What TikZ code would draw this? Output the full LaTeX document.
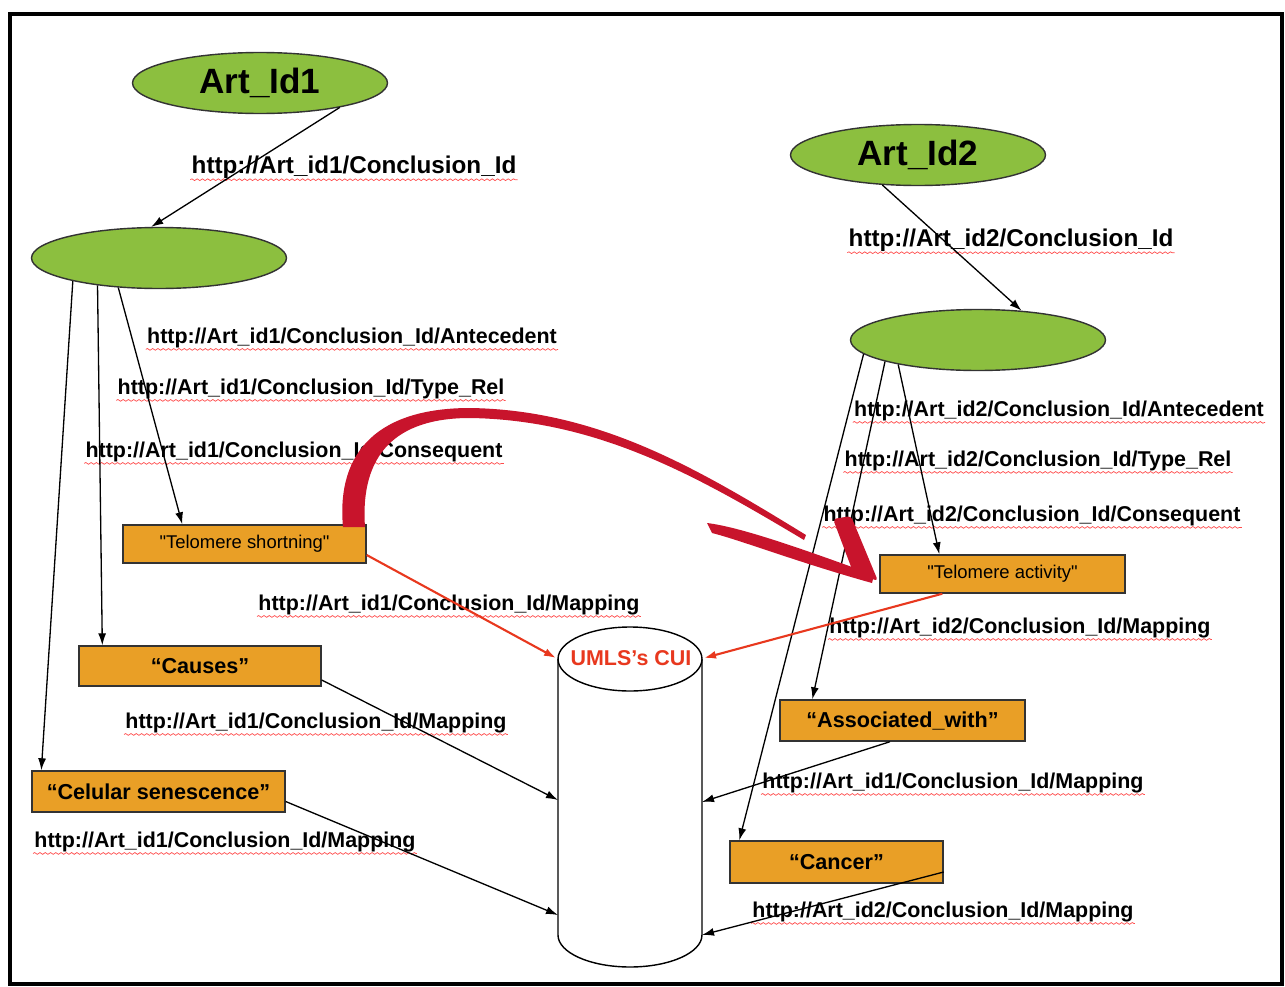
\documentclass[tikz,border=0pt]{standalone}
\usepackage{fontspec}
\setmainfont{Liberation Sans}
\newfontfamily\boxfont{Liberation Sans}
\usepackage{tikz}
\usetikzlibrary{arrows.meta,shapes.geometric,decorations.pathmorphing}
\definecolor{leaf}{HTML}{8CBF3F}
\definecolor{amber}{HTML}{E99F26}
\definecolor{crimson}{HTML}{C8142C}
\definecolor{vermil}{HTML}{E8381E}

\begin{document}
\begin{tikzpicture}[x=0.02cm,y=-0.02cm,>={Latex[length=2.4mm,width=1.6mm]},
  oval/.style={ellipse,draw=black!80,fill=leaf,line width=0.8pt,minimum width=5.1cm,minimum height=1.22cm,inner sep=0pt,font=\bfseries\fontsize{20}{24}\selectfont},
  term/.style={draw=black!80,fill=amber,line width=0.8pt,inner sep=0pt,font=\bfseries\fontsize{12.3}{14}\selectfont},
  smallterm/.style={term,font=\boxfont\fontsize{10.5}{12}\selectfont},
  uri/.style={inner sep=0.6pt,font=\bfseries\fontsize{12.2}{14}\selectfont,
    append after command={(\tikzlastnode.south west) edge[wavy] (\tikzlastnode.south east)}},
  wavy/.style={draw=red!70,line width=0.4pt,decorate,decoration={snake,amplitude=0.5pt,segment length=3pt}},
  link/.style={->,line width=0.75pt},
  map/.style={->,vermil,line width=1.2pt}]
\useasboundingbox (0,0) rectangle (1285,987);
\draw[line width=2.6pt] (10,14) rectangle (1282,984);

% articles and conclusions
\node[oval] (art1) at (260,83) {Art\_Id1};
\node[oval] (con1) at (159,258) {};
\node[oval] (art2) at (918,155) {Art\_Id2};
\node[oval] (con2) at (978,340) {};

% terms
\node[smallterm,minimum width=4.86cm,minimum height=0.76cm] (short) at (244.5,544) {"Telomere shortning"};
\node[term,minimum width=4.84cm,minimum height=0.8cm] (causes) at (200,666) {“Causes”};
\node[term,minimum width=5.06cm,minimum height=0.82cm] (senes) at (158.5,791.5) {“Celular senescence”};
\node[smallterm,minimum width=4.9cm,minimum height=0.76cm] (activ) at (1002.5,574) {"Telomere activity"};
\node[term,minimum width=4.9cm,minimum height=0.82cm] (assoc) at (902.5,720.5) {“Associated\_with”};
\node[term,minimum width=4.26cm,minimum height=0.84cm] (cancer) at (836.5,862) {“Cancer”};

% UMLS store
\draw[fill=white,line width=0.8pt] (558,659) -- (558,935) arc[start angle=180,end angle=360,x radius=1.44cm,y radius=0.64cm] -- (702,659);
\draw[fill=white,line width=0.8pt] (630,659) ellipse[x radius=1.44cm,y radius=0.64cm];
\node[text=vermil,font=\bfseries\fontsize{12.2}{14}\selectfont] (umls) at (631,658) {UMLS’s CUI};
\coordinate (cylTL) at (556,658);
\coordinate (cylTR) at (704,658);
\coordinate (cylL1) at (558,800);
\coordinate (cylL2) at (558,915);
\coordinate (cylR1) at (702,802);
\coordinate (cylR2) at (702,935);

% property labels
\node[uri,font=\bfseries\fontsize{13.8}{16}\selectfont] (p1) at (354,167) {http://Art\_id1/Conclusion\_Id};
\node[uri,font=\bfseries\fontsize{13.8}{16}\selectfont] (p2) at (1011,240) {http://Art\_id2/Conclusion\_Id};
\node[uri] (ant1) at (352,338) {http://Art\_id1/Conclusion\_Id/Antecedent};
\node[uri] (rel1) at (311,389) {http://Art\_id1/Conclusion\_Id/Type\_Rel};
\node[uri] (con1l) at (294,452) {http://Art\_id1/Conclusion\_Id/Consequent};
\node[uri] (ant2) at (1059,411) {http://Art\_id2/Conclusion\_Id/Antecedent};
\node[uri] (rel2) at (1038,461) {http://Art\_id2/Conclusion\_Id/Type\_Rel};
\node[uri] (con2l) at (1032,516) {http://Art\_id2/Conclusion\_Id/Consequent};
\node[uri] (m1) at (449,605) {http://Art\_id1/Conclusion\_Id/Mapping};
\node[uri] (m2) at (1020,628) {http://Art\_id2/Conclusion\_Id/Mapping};
\node[uri] (m3) at (316,723) {http://Art\_id1/Conclusion\_Id/Mapping};
\node[uri] (m4) at (225,842) {http://Art\_id1/Conclusion\_Id/Mapping};
\node[uri] (m5) at (953,783) {http://Art\_id1/Conclusion\_Id/Mapping};
\node[uri] (m6) at (943,912) {http://Art\_id2/Conclusion\_Id/Mapping};

% connectors
\draw[link] (art1.-17) -- (con1.104);
\draw[link] (art2.-140) -- (con2.34);
\draw[link] (con1.195) -- ([xshift=0.2cm]senes.north west);
\draw[link] (con1.204) -- ([xshift=0.48cm]causes.north west);
\draw[link] (con1.216) -- ([xshift=1.2cm]short.north west);
\draw[link] (con2.187) -- ([xshift=0.2cm]cancer.north west);
\draw[link] (con2.193) -- ([xshift=0.66cm]assoc.north west);
\draw[link] (con2.197) -- ([xshift=1.2cm]activ.north west);
\draw[map] ([yshift=-0.22cm]short.east) -- (cylTL);
\draw[map] ([xshift=1.26cm]activ.south west) -- (cylTR);
\draw[link] ([yshift=-0.28cm]causes.east) -- (cylL1);
\draw[link] ([yshift=-0.2cm]senes.east) -- (cylL2);
\draw[link] ([xshift=-0.25cm]assoc.south) -- (cylR1);
\draw[link] ([yshift=-0.2cm]cancer.east) -- (cylR2);

% hand drawn red arrow
\fill[crimson] (343,527) .. controls (336,450) and (380,408) .. (470,408)
  .. controls (600,410) and (700,470) .. (806,535) -- (804,540)
  .. controls (700,478) and (600,420) .. (470,418)
  .. controls (395,418) and (360,455) .. (365,527) -- cycle;
\fill[crimson] (707,523) .. controls (740,527) and (800,548) .. (874,575) -- (872,583)
  .. controls (800,563) and (740,540) .. (712,533) -- cycle;
\fill[crimson,rounded corners=2pt] (833,519) -- (851,516) -- (878,581) -- (853,572) -- cycle;
\end{tikzpicture}
\end{document}
